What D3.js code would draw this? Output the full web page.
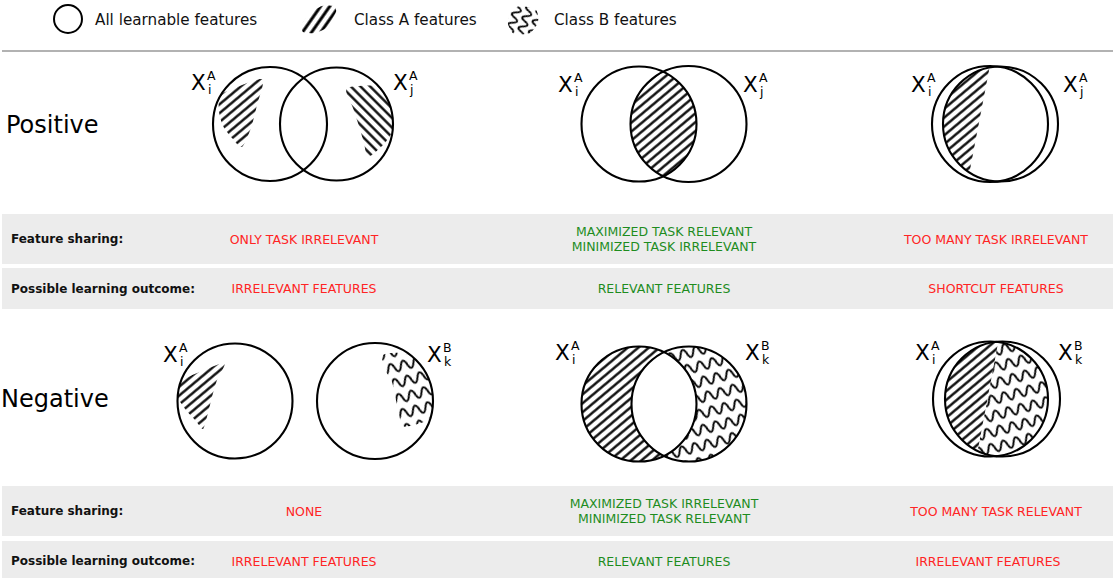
<!DOCTYPE html>
<html><head><meta charset="utf-8">
<script src="https://cdn.jsdelivr.net/npm/d3@7"></script>
<style>body{margin:0;background:#fff;} svg{display:block;font-family:"DejaVu Sans",Verdana,sans-serif;}</style>
</head><body><svg id="c" width="1115" height="578"></svg>
<script>
// ---------------- data ----------------
const legendLabels = ["All learnable features", "Class A features", "Class B features"];
const rowNames = ["Positive", "Negative"];
const infoNames = ["Feature sharing:", "Possible learning outcome:"];
const positiveSharing = [["ONLY TASK IRRELEVANT"], ["MAXIMIZED TASK RELEVANT", "MINIMIZED TASK IRRELEVANT"], ["TOO MANY TASK IRRELEVANT"]];
const positiveOutcome = ["IRRELEVANT FEATURES", "RELEVANT FEATURES", "SHORTCUT FEATURES"];
const negativeSharing = [["NONE"], ["MAXIMIZED TASK IRRELEVANT", "MINIMIZED TASK RELEVANT"], ["TOO MANY TASK RELEVANT"]];
const negativeOutcome = ["IRRELEVANT FEATURES", "RELEVANT FEATURES", "IRRELEVANT FEATURES"];
const desirable = [false, true, false];
const positiveSets = [["i", "A"], ["j", "A"]];
const negativeSets = [["i", "A"], ["k", "B"]];

// ---------------- layout ----------------
const svg = d3.select("#c");
const defs = svg.append("defs");
const RED = "#ff2424", GREEN = "#1e8c1e", BAND = "#ececec";
const colX = d3.scaleOrdinal().domain([0, 1, 2]).range([304, 664, 996]);

function hatch(id, angle, gap, sw) {
  const p = defs.append("pattern").attr("id", id).attr("patternUnits", "userSpaceOnUse")
    .attr("width", 10).attr("height", gap).attr("patternTransform", `rotate(${angle})`);
  p.append("line").attr("x1", -1).attr("x2", 11).attr("y1", gap / 2).attr("y2", gap / 2)
    .attr("stroke", "#000").attr("stroke-width", sw);
}
hatch("hatchA", -40, 6.8, 2.3);
hatch("hatchA2", 45, 6.8, 2.3);
hatch("hatchIcon", -55, 7.5, 3);
(function wave() {
  const p = defs.append("pattern").attr("id", "wave").attr("patternUnits", "userSpaceOnUse")
    .attr("width", 13).attr("height", 15.5).attr("patternTransform", "rotate(-15)");
  p.append("path").attr("d", "M-6.5,7.75 Q-3.25,-1.5 0,7.75 T6.5,7.75 T13,7.75 T19.5,7.75").attr("fill", "none")
    .attr("stroke", "#000").attr("stroke-width", 2);
})();
(function waveIcon() {
  const p = defs.append("pattern").attr("id", "waveIcon").attr("patternUnits", "userSpaceOnUse")
    .attr("width", 11).attr("height", 11).attr("patternTransform", "rotate(-70)");
  p.append("path").attr("d", "M-5.5,5.5 Q-2.75,-2 0,5.5 T5.5,5.5 T11,5.5 T16.5,5.5").attr("fill", "none")
    .attr("stroke", "#000").attr("stroke-width", 1.8);
})();

let clipId = 0;
function clipOf(build, rule) {
  const id = "clip" + (clipId++);
  const cp = defs.append("clipPath").attr("id", id);
  build(cp, rule);
  return `url(#${id})`;
}
const circleD = ([cx, cy, r]) => `M${cx - r},${cy}a${r},${r} 0 1,0 ${2 * r},0a${r},${r} 0 1,0 ${-2 * r},0Z`;
const smooth = d3.line().curve(d3.curveCardinalClosed.tension(0.3));
const poly = d3.line().curve(d3.curveLinearClosed);

function fillRegion(clips, pattern) {
  let g = svg.append("g");
  clips.forEach((c, i) => {
    if (i > 0) g = g.append("g");
    g.attr("clip-path", c);
  });
  g.append("rect").attr("x", 0).attr("y", 0).attr("width", 1115).attr("height", 578).attr("fill", `url(#${pattern})`);
}
const circClip = c => clipOf(cp => cp.append("path").attr("d", circleD(c)));
const pathClip = (d, rule) => clipOf(cp => cp.append("path").attr("d", d).attr("clip-rule", rule || "nonzero"));

// ---------------- geometry of the diagrams ----------------
const venn = [
  { row: 0, sets: positiveSets, circles: [[270, 124, 57], [336.5, 124, 56.5]], labels: [[191, 90], [393, 90]],
    fills: [
      { kind: "blob", circle: 0, pattern: "hatchA", pts: [[262, 79], [257, 105], [251, 128], [242, 147], [232, 138], [223, 126], [219, 112], [219, 100], [223, 93]] },
      { kind: "blob", circle: 1, pattern: "hatchA2", pts: [[347, 88], [384, 87], [393, 110], [393, 130], [384, 144], [368, 157], [364, 143], [359, 126], [353, 108]] }
    ] },
  { row: 0, sets: positiveSets, circles: [[639, 124, 57.5], [688.5, 124, 58]], labels: [[558, 92], [743, 92]],
    fills: [{ kind: "lens", pattern: "hatchA" }] },
  { row: 0, sets: positiveSets, circles: [[990, 124, 58], [1000.5, 124, 57.5]], labels: [[911, 92], [1063, 92]],
    fills: [{ kind: "lensSide", side: -1, cut: [[991, 60], [968, 180]], pattern: "hatchA" }] },
  { row: 1, sets: negativeSets, circles: [[235, 401, 57.5], [375, 401, 58]], labels: [[163, 362], [427, 362]],
    fills: [
      { kind: "blob", circle: 0, pattern: "hatchA", pts: [[224, 363], [217, 380], [212, 397], [208, 413], [203, 429], [196, 421], [186, 410], [176, 395], [176, 384], [188, 377]] },
      { kind: "blob", circle: 1, pattern: "wave", pts: [[383, 355], [401, 353], [426, 362], [436, 390], [430, 418], [410, 426], [402, 425], [397, 405], [392, 382], [384, 368]] }
    ] },
  { row: 1, sets: negativeSets, circles: [[639, 404, 57.5], [689, 404, 57.5]], labels: [[555, 360], [745, 360]],
    fills: [{ kind: "crescent", of: 0, pattern: "hatchA" }, { kind: "crescent", of: 1, pattern: "wave" }] },
  { row: 1, sets: negativeSets, circles: [[990.5, 399, 57.5], [1002.5, 399, 57.5]], labels: [[915, 360], [1058, 360]],
    fills: [
      { kind: "lensSide", side: -1, cut: [[1000.5, 330], [974, 470]], pattern: "hatchA" },
      { kind: "lensSide", side: 1, cut: [[1000.5, 330], [974, 470]], pattern: "wave" }
    ] }
];

// ---------------- legend ----------------
svg.append("circle").attr("cx", 68).attr("cy", 19).attr("r", 14).attr("fill", "none").attr("stroke", "#000").attr("stroke-width", 2);
fillRegion([clipOf(cp => cp.append("path").attr("d", smooth([[333, 6], [336, 12], [326, 28], [314, 33], [303, 32], [302, 24], [312, 12], [322, 6]])))], "hatchIcon");
fillRegion([clipOf(cp => cp.append("path").attr("d", smooth([[520, 6], [536, 10], [538, 22], [530, 33], [514, 34], [508, 24], [510, 12]])))], "waveIcon");
const legendX = [95, 354, 554];
svg.selectAll("text.legend").data(legendLabels).join("text").attr("class", "legend")
  .attr("x", (d, i) => legendX[i]).attr("y", 25).attr("font-size", 15.2).attr("fill", "#111").text(d => d);

// separator
svg.append("line").attr("x1", 2).attr("x2", 1113).attr("y1", 51).attr("y2", 51).attr("stroke", "#999").attr("stroke-width", 1.5);

// row names
const rowNameY = [133, 407], rowNameX = [6, 1];
svg.selectAll("text.rowname").data(rowNames).join("text").attr("class", "rowname")
  .attr("x", (d, i) => rowNameX[i]).attr("y", (d, i) => rowNameY[i]).attr("font-size", 24).attr("fill", "#000").text(d => d);

// ---------------- venn diagrams ----------------
venn.forEach(v => {
  const [A, B] = v.circles;
  v.fills.forEach(f => {
    if (f.kind === "blob") {
      fillRegion([circClip(v.circles[f.circle]), pathClip(smooth(f.pts))], f.pattern);
    } else if (f.kind === "lens") {
      fillRegion([circClip(A), circClip(B)], f.pattern);
    } else if (f.kind === "crescent") {
      fillRegion([circClip(v.circles[f.of]), pathClip(circleD(A) + circleD(B), "evenodd")], f.pattern);
    } else if (f.kind === "lensSide") {
      const [p0, p1] = f.cut, off = 200 * f.side;
      const pts = [p0, p1, [p1[0] + off, p1[1]], [p0[0] + off, p0[1]]];
      fillRegion([circClip(A), circClip(B), pathClip(poly(pts))], f.pattern);
    }
  });
  svg.append("g").selectAll("circle").data(v.circles).join("circle")
    .attr("cx", d => d[0]).attr("cy", d => d[1]).attr("r", d => d[2])
    .attr("fill", "none").attr("stroke", "#000").attr("stroke-width", 2.1);
  v.labels.forEach(([x, y], i) => {
    const [sub, sup] = v.sets[i];
    const g = svg.append("g").attr("fill", "#000");
    g.append("text").attr("x", x).attr("y", y).attr("font-size", 21.5).text("X");
    g.append("text").attr("x", x + 16).attr("y", y - 10).attr("font-size", 12.5).text(sup);
    g.append("text").attr("x", x + 17).attr("y", y + 4).attr("font-size", 12.5).text(sub);
  });
});

// ---------------- info bands ----------------
const bands = [
  { y: 214, h: 50, info: 0, values: positiveSharing, dx: [0, 0, 0] },
  { y: 268, h: 41, info: 1, values: positiveOutcome.map(d => [d]), dx: [0, 0, 0] },
  { y: 486, h: 50, info: 0, values: negativeSharing, dx: [0, 0, 0] },
  { y: 541, h: 40, info: 1, values: negativeOutcome.map(d => [d]), dx: [0, 0, -8] }
];
bands.forEach(b => {
  svg.append("rect").attr("x", 2).attr("y", b.y).attr("width", 1111).attr("height", b.h).attr("fill", BAND);
  const cy = b.y + b.h / 2;
  svg.append("text").attr("x", 11).attr("y", cy + 4.2).attr("font-size", 12).attr("font-weight", "bold")
    .attr("fill", "#111").text(infoNames[b.info]);
  b.values.forEach((lines, c) => {
    const t = svg.append("text").attr("text-anchor", "middle").attr("font-size", 12.5)
      .attr("fill", desirable[c] ? GREEN : RED);
    lines.forEach((line, k) => {
      t.append("tspan").attr("x", colX(c) + b.dx[c]).attr("y", cy + 4.5 + (k - (lines.length - 1) / 2) * 15).text(line);
    });
  });
});
</script></body></html>
